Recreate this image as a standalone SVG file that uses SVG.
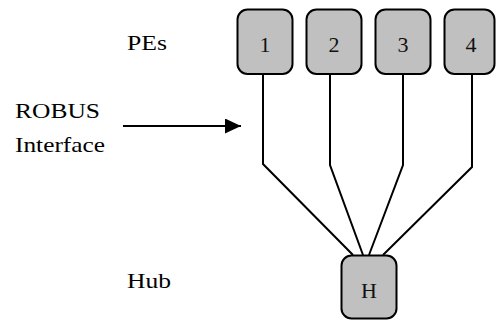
<svg xmlns="http://www.w3.org/2000/svg" width="496" height="320" viewBox="0 0 496 320">
<style>
.box{fill:#c0c0c0;stroke:#000;stroke-width:2}
.lbl{font-family:"Liberation Serif","Times New Roman",serif;font-size:22px;fill:#000}
.num{font-family:"Liberation Serif","Times New Roman",serif;font-size:22px;fill:#111;text-anchor:middle}
.wire{fill:none;stroke:#000;stroke-width:2}
</style>
<defs>
<marker id="ah" markerWidth="16" markerHeight="16" refX="16" refY="7.5" orient="auto" markerUnits="userSpaceOnUse">
<path d="M0,0 L16,7.5 L0,15 Z" fill="#000"/>
</marker>
</defs>
<rect width="496" height="320" fill="#fff"/>
<g id="labels">
<text class="lbl" x="127" y="50" textLength="40" lengthAdjust="spacingAndGlyphs">PEs</text>
<text class="lbl" x="15" y="118" textLength="85" lengthAdjust="spacingAndGlyphs">ROBUS</text>
<text class="lbl" x="15" y="152" textLength="90" lengthAdjust="spacingAndGlyphs">Interface</text>
<text class="lbl" x="127" y="288" textLength="44" lengthAdjust="spacingAndGlyphs">Hub</text>
</g>
<g id="connectors">
<line class="wire" x1="123" y1="126" x2="241" y2="126" marker-end="url(#ah)"/>
<polyline class="wire" points="263,74 263,164 353,255"/>
<polyline class="wire" points="330,74 330,165 363,255"/>
<polyline class="wire" points="403,74 403,165 369,255"/>
<polyline class="wire" points="472,74 472,167 383,255"/>
</g>
<g id="pe1"><rect class="box" x="237.5" y="9.5" width="55" height="64.5" rx="10"/><text class="num" x="265" y="52">1</text></g>
<g id="pe2"><rect class="box" x="306.5" y="9.5" width="55" height="64.5" rx="10"/><text class="num" x="334" y="52">2</text></g>
<g id="pe3"><rect class="box" x="375.5" y="9.5" width="55" height="64.5" rx="10"/><text class="num" x="403" y="52">3</text></g>
<g id="pe4"><rect class="box" x="444.5" y="9.5" width="50" height="64.5" rx="10"/><text class="num" x="471" y="52">4</text></g>
<g id="hub"><rect class="box" x="341.5" y="255.5" width="55" height="63" rx="10"/><text class="num" x="369" y="298">H</text></g>
</svg>
